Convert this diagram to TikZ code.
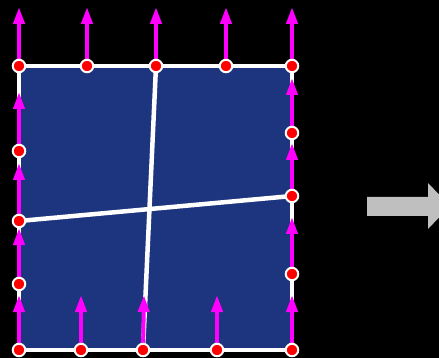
\documentclass[tikz,border=0pt]{standalone}
\usetikzlibrary{arrows.meta}
\definecolor{panelblue}{RGB}{29,52,126}
\definecolor{arrowgray}{RGB}{191,191,191}
\definecolor{loadmag}{RGB}{255,0,255}
\definecolor{dotred}{RGB}{255,0,0}
\begin{document}
\begin{tikzpicture}[x=1pt,y=-1pt,
  dot/.style={circle,fill=dotred,draw=white,line width=2pt,inner sep=0pt,minimum size=12.5pt},
  load/.style={draw=loadmag,line width=4pt,-{Triangle[width=11pt,length=17pt]}},
  edge/.style={draw=white,line width=4.5pt},
]
\useasboundingbox (0,0) rectangle (439,358);
\clip (0,0) rectangle (439,358);
\fill[black] (0,0) rectangle (439,358);
% panel
\fill[panelblue] (19,66) rectangle (292,350);
\draw[edge] (19,66) rectangle (292,350);
% positions
\coordinate (t1) at (19,66);  \coordinate (t2) at (87,66);  \coordinate (t3) at (156,66);
\coordinate (t4) at (226,66); \coordinate (t5) at (292,66);
\coordinate (l1) at (19,151); \coordinate (l2) at (19,221); \coordinate (l3) at (19,284);
\coordinate (r1) at (292,133); \coordinate (r2) at (292,196); \coordinate (r3) at (292,274);
\coordinate (b1) at (19,350); \coordinate (b2) at (81,350); \coordinate (b3) at (143,350);
\coordinate (b4) at (217,350); \coordinate (b5) at (292,350);
% internal white lines
\draw[edge] (t3) -- (b3);
\draw[edge] (l2) -- (r2);
% arrow ends
\coordinate (at1) at (19,7);  \coordinate (at2) at (87,7);  \coordinate (at3) at (156,7);
\coordinate (at4) at (226,7); \coordinate (at5) at (292,7);
\coordinate (al1) at (19,92); \coordinate (al2) at (19,163); \coordinate (al3) at (19,228);
\coordinate (ab1) at (19,295);
\coordinate (ar1) at (292,78); \coordinate (ar2) at (292,143); \coordinate (ar3) at (292,217);
\coordinate (ab5) at (292,295);
\coordinate (ab2) at (81,295); \coordinate (ab3) at (144,295); \coordinate (ab4) at (217,295);
% magenta arrows
\foreach \s/\e in {t1/at1,t2/at2,t3/at3,t4/at4,t5/at5,
                   l1/al1,l2/al2,l3/al3,b1/ab1,
                   r1/ar1,r2/ar2,r3/ar3,b5/ab5,
                   b2/ab2,b3/ab3,b4/ab4}
  \draw[load] (\s) -- (\e);
% dots
\foreach \p in {t1,t2,t3,t4,t5,l1,l2,l3,r1,r2,r3,b1,b2,b3,b4,b5}
  \node[dot] (d\p) at (\p) {};
% gray arrow
\fill[arrowgray] (367,197) -- (428,197) -- (428,183) -- (450,206) -- (428,229) -- (428,216) -- (367,216) -- cycle;
\end{tikzpicture}
\end{document}
